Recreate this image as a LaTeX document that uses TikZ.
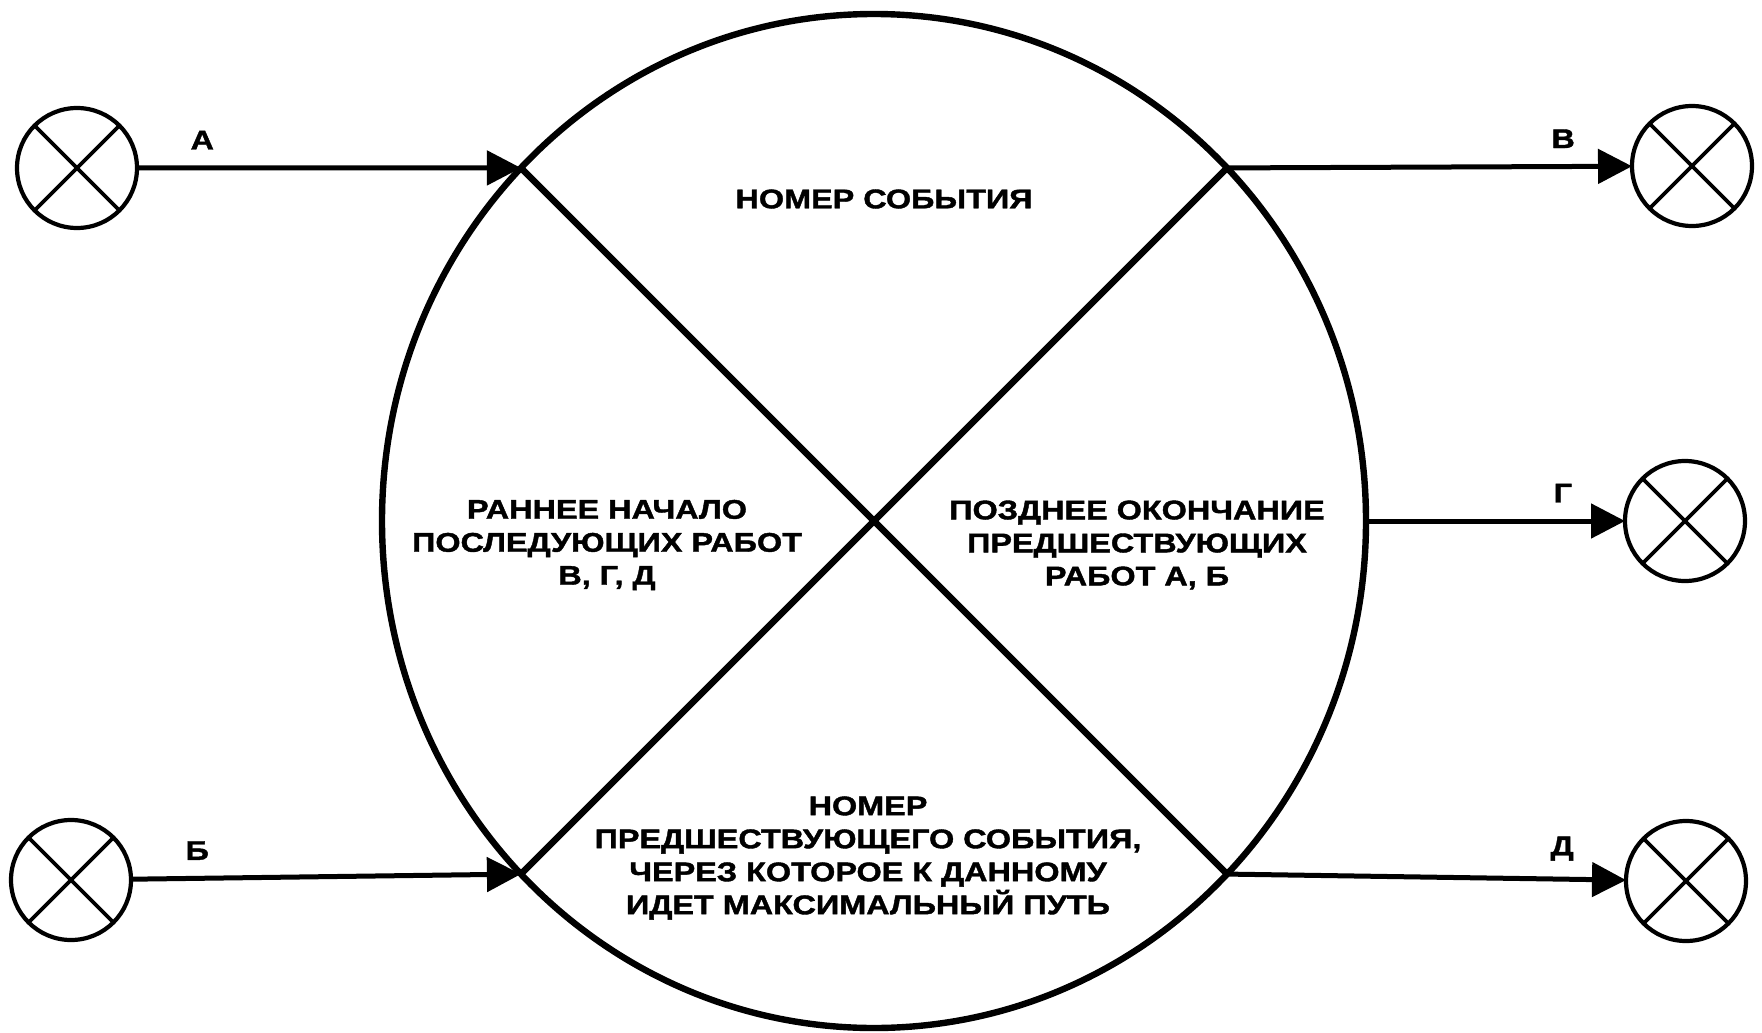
\documentclass[tikz,border=0pt]{standalone}
\usepackage{fontspec}
\setmainfont[FakeStretch=1.2, BoldFeatures={FakeBold=1.5}]{Liberation Sans}
\usetikzlibrary{shapes.geometric,arrows.meta}

\begin{document}
\begin{tikzpicture}[x=0.5pt, y=-0.5pt,
  txt/.style={font=\fontsize{13.5}{16.5}\selectfont\bfseries, align=center, inner sep=0pt},
  lbl/.style={txt, above=8pt},
  xevent/.style={circle, draw, line width=2.1pt, minimum size=60pt, inner sep=0pt, outer sep=0pt,
    path picture={\draw[line width=1.8pt]
      (path picture bounding box.north west) -- (path picture bounding box.south east)
      (path picture bounding box.south west) -- (path picture bounding box.north east);}},
  work/.style={-{Triangle[length=17pt, width=17pt]}, line width=2.5pt}]
  \useasboundingbox (0,0) rectangle (1762,1033);

  % the event itself
  \node[ellipse, draw, line width=3.2pt, minimum width=492pt, minimum height=507pt,
        inner sep=0pt, outer sep=0pt] (ev) at (874,521) {};
  \draw[line width=3.2pt] (ev.135) -- (ev.315) (ev.45) -- (ev.225);

  \node[txt] (num)  at (884,199) {НОМЕР СОБЫТИЯ};
  \node[txt] (early) at (607,545) {РАННЕЕ НАЧАЛО\\ПОСЛЕДУЮЩИХ РАБОТ\\В, Г, Д};
  \node[txt] (late)  at (1137,545) {ПОЗДНЕЕ ОКОНЧАНИЕ\\ПРЕДШЕСТВУЮЩИХ\\РАБОТ А, Б};
  \node[txt] (prev)  at (868,858) {НОМЕР\\ПРЕДШЕСТВУЮЩЕГО СОБЫТИЯ,\\ЧЕРЕЗ КОТОРОЕ К ДАННОМУ\\ИДЕТ МАКСИМАЛЬНЫЙ ПУТЬ};

  % neighbouring events
  \node[xevent] (a) at (77,168) {};
  \node[xevent] (b) at (71,880) {};
  \node[xevent] (v) at (1692,166) {};
  \node[xevent] (g) at (1685,521) {};
  \node[xevent] (d) at (1686,881) {};

  \draw[work] (a) -- node[lbl, pos=0.17] {А} (ev.135);
  \draw[work] (b) -- node[lbl, pos=0.17] {Б} (ev.225);
  \draw[work] (ev.45)  -- node[lbl, pos=0.83] {В} (v);
  \draw[work] (ev.east) -- node[lbl, pos=0.76] {Г} (g);
  \draw[work] (ev.315) -- node[lbl, pos=0.84] {Д} (d);
\end{tikzpicture}
\end{document}
